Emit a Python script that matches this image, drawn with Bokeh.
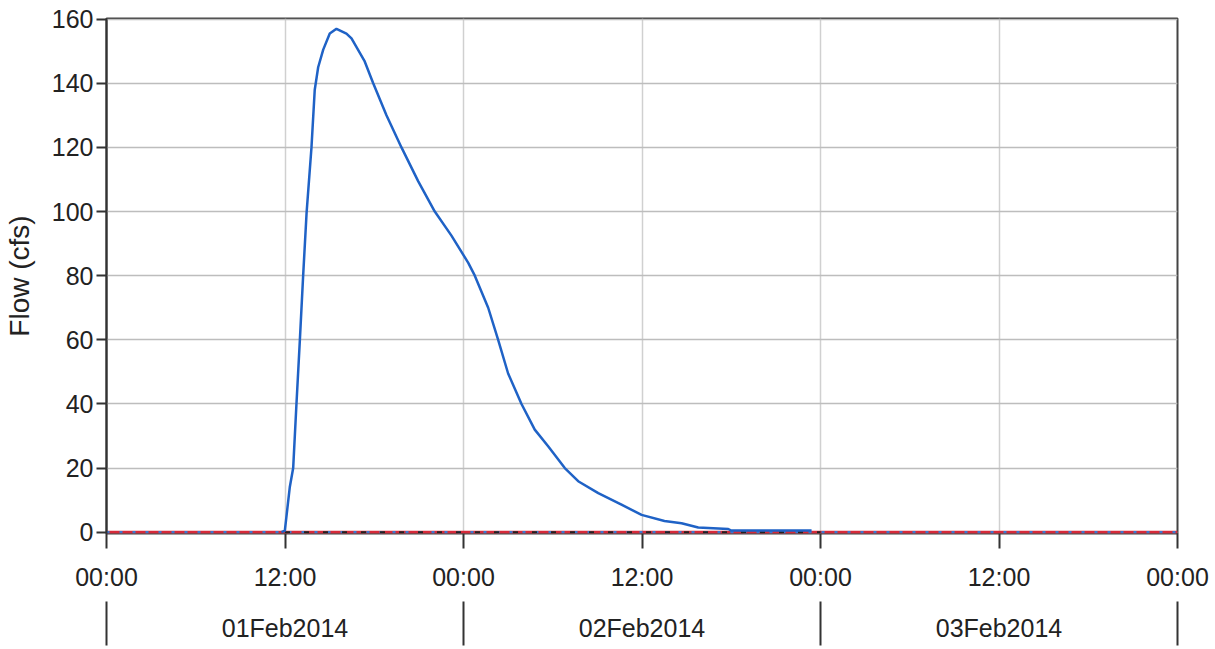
from bokeh.plotting import figure
from bokeh.models import FixedTicker, LinearAxis, Range1d
from bokeh.embed import file_html
from bokeh.resources import INLINE

# Hours since 01Feb2014 00:00 and flow (cfs) of the hydrograph
hours = [11.76, 11.99, 12.32, 12.55, 12.77, 13.0, 13.22, 13.45, 13.78, 14.0, 14.23,
         14.57, 15.01, 15.46, 16.13, 16.47, 17.34, 17.93, 18.82, 19.83, 20.95,
         22.07, 23.19, 24.32, 24.76, 25.66, 26.33, 27.0, 27.9, 28.79, 29.69,
         30.81, 31.71, 33.06, 34.62, 35.97, 37.51, 38.66, 39.78, 41.8, 42.0, 47.4]
flow = [0.0, 0.5, 14.0, 20.0, 40.0, 60.0, 80.0, 99.5, 120.0, 138.0, 145.0,
        150.5, 155.5, 157.0, 155.5, 154.0, 147.0, 140.0, 130.0, 120.0, 109.5,
        100.0, 92.5, 84.0, 80.0, 70.0, 60.0, 49.5, 40.0, 32.0, 26.8,
        20.0, 15.9, 12.2, 8.6, 5.4, 3.5, 2.8, 1.45, 1.0, 0.5, 0.5]

# Zero reference series
base_hours = [0, 72]
base_flow = [0, 0]
black_hours = [12, 48]
black_flow = [0, 0]

time_ticks = [0, 12, 24, 36, 48, 60, 72]
time_labels = ["00:00", "12:00", "00:00", "12:00", "00:00", "12:00", "00:00"]
day_centers = [12, 36, 60]
day_labels = ["01Feb2014", "02Feb2014", "03Feb2014"]
day_bounds = [0, 24, 48, 72]
y_ticks = [0, 20, 40, 60, 80, 100, 120, 140, 160]

FONT = "Liberation Sans"

p = figure(width=1215, height=649, output_backend="svg", toolbar_location=None,
           x_range=Range1d(0, 72), y_range=Range1d(-0.4, 160.2),
           min_border_left=105, min_border_right=38, min_border_top=18,
           min_border_bottom=116)
p.background_fill_color = "white"
p.border_fill_color = "white"
p.outline_line_color = "#444444"
p.outline_line_width = 2

# x axis (times)
xa = p.xaxis[0]
xa.ticker = FixedTicker(ticks=time_ticks, minor_ticks=[])
xa.major_label_overrides = {t: l for t, l in zip(time_ticks, time_labels)}
xa.axis_line_color = None
xa.major_tick_in = 0
xa.major_tick_out = 15
xa.major_tick_line_color = "#333333"
xa.major_tick_line_width = 2
xa.minor_tick_line_color = None
xa.major_label_standoff = 14
xa.major_label_text_font = FONT
xa.major_label_text_font_size = "25px"
xa.major_label_text_color = "#222222"

# second x axis (days)
ax2 = LinearAxis(ticker=FixedTicker(ticks=day_centers, minor_ticks=day_bounds))
ax2.major_label_overrides = {t: l for t, l in zip(day_centers, day_labels)}
ax2.axis_line_color = None
ax2.major_tick_line_color = None
ax2.major_tick_in = 0
ax2.major_tick_out = 0
ax2.minor_tick_in = -8
ax2.minor_tick_out = 52
ax2.minor_tick_line_color = "#333333"
ax2.minor_tick_line_width = 2
ax2.major_label_standoff = -32
ax2.major_label_text_font = FONT
ax2.major_label_text_font_size = "25px"
ax2.major_label_text_color = "#222222"
p.add_layout(ax2, "below")

# y axis
ya = p.yaxis[0]
ya.ticker = FixedTicker(ticks=y_ticks, minor_ticks=[])
ya.axis_line_color = "#333333"
ya.axis_line_width = 2
ya.major_tick_in = 0
ya.major_tick_out = 10
ya.major_tick_line_color = "#333333"
ya.major_tick_line_width = 2
ya.minor_tick_line_color = None
ya.major_label_standoff = 3
ya.major_label_text_font = FONT
ya.major_label_text_font_size = "25px"
ya.major_label_text_color = "#222222"
ya.axis_label = "Flow (cfs)"
ya.axis_label_text_font = FONT
ya.axis_label_text_font_size = "28px"
ya.axis_label_text_font_style = "normal"
ya.axis_label_text_color = "#222222"
ya.axis_label_standoff = 14

p.xgrid.grid_line_color = "#d0d0d0"
p.xgrid.grid_line_width = 1.5
p.ygrid.grid_line_color = "#bdbdbd"
p.ygrid.grid_line_width = 1.5

# zero lines
p.line(base_hours, base_flow, line_color="#d62a3a", line_width=3)
p.line(base_hours, base_flow, line_color="#3a78d0", line_width=2.5, line_dash="3 10")
p.line(black_hours, black_flow, line_color="#222222", line_width=2, line_dash="5 14")

# hydrograph
p.line(hours, flow, line_color="#1f62c6", line_width=2.5)

open("out.html", "w").write(file_html(p, INLINE))
